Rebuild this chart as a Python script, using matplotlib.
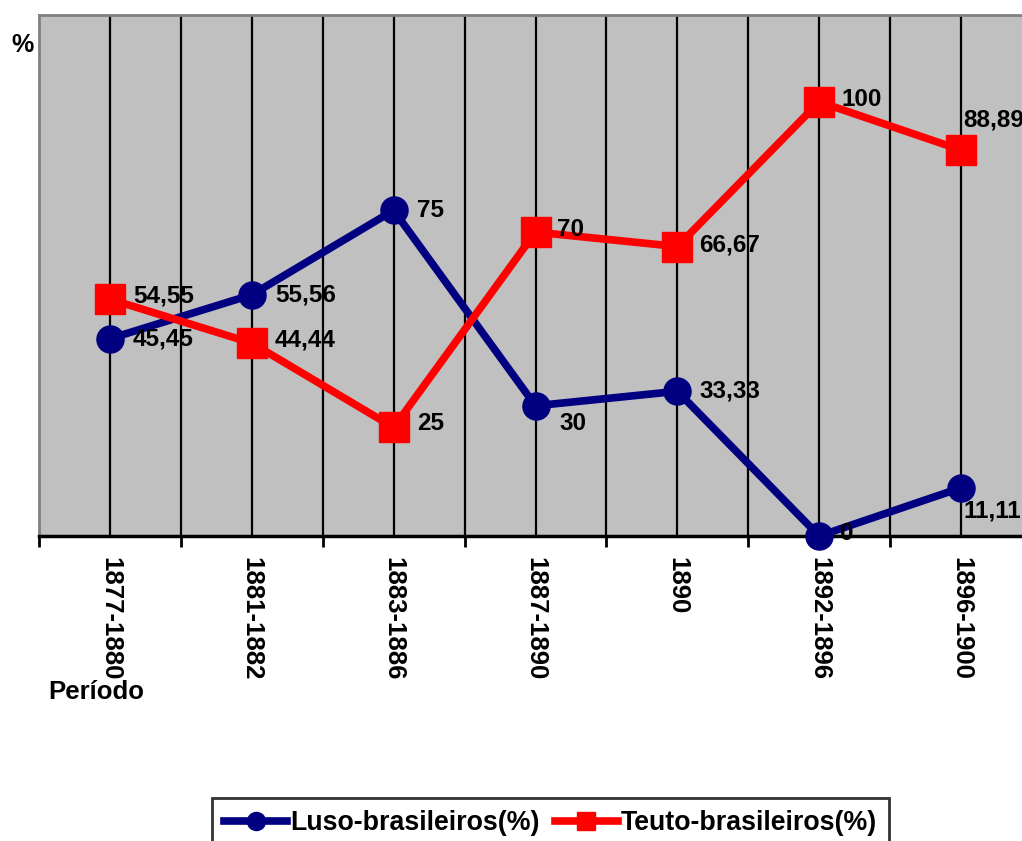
import matplotlib
matplotlib.use("Agg")
import matplotlib.pyplot as plt
import numpy as np

periods = ["1877-1880", "1881-1882", "1883-1886", "1887-1890", "1890", "1892-1896", "1896-1900"]
luso = [45.45, 55.56, 75, 30, 33.33, 0, 11.11]
teuto = [54.55, 44.44, 25, 70, 66.67, 100, 88.89]
luso_name = "Luso-brasileiros(%)"
teuto_name = "Teuto-brasileiros(%)"

# label offsets in pixels (dx, dy up-positive)
luso_off = [(23, 0), (23, 0), (23, 0), (24, -18), (22, 0), (21, 2), (2, -23)]
teuto_off = [(23, 3), (23, 3), (23, 4), (22, 3), (22, 2), (22, 2), (2, 30)]

plt.rcParams['font.family'] = ['Liberation Sans', 'DejaVu Sans']

W, H = 1022, 841
fig = plt.figure(figsize=(W / 100, H / 100), dpi=100)
left, right, top, bottom = 39, 1032, 15, 536
ax = fig.add_axes([left / W, 1 - bottom / H, (right - left) / W, (bottom - top) / H])
ax.set_facecolor('#C0C0C0')

x = np.arange(len(periods))
ax.set_xlim(-0.5, len(periods) - 0.5)
ax.set_ylim(0, 120)

for xc in np.arange(-0.5, len(periods), 0.5):
    if xc > -0.5:
        ax.axvline(xc, color='black', lw=1.6, zorder=1)

ax.plot(x, luso, color='#000080', lw=5.5, marker='o', markersize=19.5, zorder=3, clip_on=False,
        label=luso_name)
ax.plot(x, teuto, color='#FF0000', lw=5.5, marker='s', markersize=21.5, zorder=3, clip_on=False,
        label=teuto_name)

def fmt(v):
    s = ("%.2f" % v).rstrip('0').rstrip('.')
    return s.replace('.', ',')

for xi, v, (dx, dy) in zip(x, luso, luso_off):
    ax.annotate(fmt(v), (xi, v), xytext=(dx * 0.72, dy * 0.72), textcoords='offset points',
                ha='left', va='center', fontsize=17.5, fontweight='bold', zorder=5,
                annotation_clip=False)
for xi, v, (dx, dy) in zip(x, teuto, teuto_off):
    ax.annotate(fmt(v), (xi, v), xytext=(dx * 0.72, dy * 0.72), textcoords='offset points',
                ha='left', va='center', fontsize=17.5, fontweight='bold', zorder=5,
                annotation_clip=False)

ax.set_yticks([])
ax.set_xticks(x)
ax.set_xticklabels(periods, rotation=270, fontsize=18.5, fontweight='bold', va='top', ha='center')
ax.set_xticks(np.arange(-0.5, len(periods), 1.0), minor=True)
ax.tick_params(axis='x', which='major', length=0, pad=15)
ax.tick_params(axis='x', which='minor', length=8, width=2, direction='out', color='black')

for s in ['top', 'left']:
    ax.spines[s].set_color('#808080')
    ax.spines[s].set_linewidth(2)
ax.spines['right'].set_visible(False)
ax.spines['bottom'].set_color('black')
ax.spines['bottom'].set_linewidth(2.5)

fig.text(22 / W, 1 - 45 / H, "%", fontsize=18, fontweight='bold', ha='center', va='center')
fig.text(48 / W, 1 - 692 / H, "Período", fontsize=18.5, fontweight='bold', ha='left', va='center')

leg = fig.legend(loc='upper left', bbox_to_anchor=(212 / W, 1 - 798 / H), ncol=2,
                 prop={'weight': 'bold', 'size': 19.3}, frameon=True, fancybox=False,
                 edgecolor='black', handlelength=2.35, handletextpad=0.12, columnspacing=0.55,
                 borderpad=0.45, borderaxespad=0)
leg.get_frame().set_linewidth(2)
for h in leg.legend_handles:
    h.set_markersize(13)

fig.savefig("out.png", dpi=100)
